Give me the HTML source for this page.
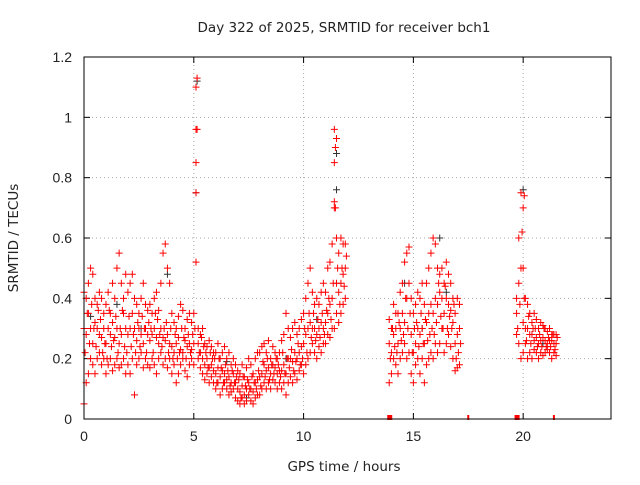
<!DOCTYPE html>
<html><head><meta charset="utf-8"><style>
body{margin:0;background:#fff;}
svg text{font-family:"Liberation Sans",sans-serif;font-size:14px;fill:#222;}
svg text.big{font-family:"DejaVu Sans",sans-serif;font-size:13.5px;}
</style></head><body>
<svg id="chart" width="640" height="480" viewBox="0 0 640 480" xmlns="http://www.w3.org/2000/svg">
<text class="big" x="344" y="32" text-anchor="middle">Day 322 of 2025, SRMTID for receiver bch1</text>
<text class="big" x="344" y="471" text-anchor="middle">GPS time / hours</text>
<text class="big" transform="translate(18,238) rotate(-90)" text-anchor="middle">SRMTID / TECUs</text>
<g id="grid"></g>
<g id="ticks"></g>
<g id="marks"></g>
<rect x="84" y="57" width="527" height="362" fill="none" stroke="#000" stroke-width="1"/>
</svg>
<script>
const xTicks=[0,5,10,15,20];
const yTicks=[0,0.2,0.4,0.6,0.8,1,1.2];
const yTickLabels=["0","0.2","0.4","0.6","0.8","1","1.2"];
const segStarts=[0.0,13.9,19.7];
const segStep=0.1;
const lowA=[.05,.12,.15,.2,.18,.15,.2,.22,.18,.2,.15,.18,.2,.16,.18,.2,.17,.18,.2,.15,.18,.15,.2,.08,.18,.2,.22,.17,.2,.18,.17,.2,.18,.15,.2,.22,.18,.2,.17,.2,.15,.18,.12,.15,.18,.2,.16,.14,.18,.2,.18,.52,.2,.17,.15,.13,.15,.12,.14,.12,.1,.12,.08,.1,.12,.1,.08,.09,.1,.07,.06,.05,.07,.05,.06,.08,.06,.05,.07,.08,.08,.1,.12,.1,.12,.1,.13,.12,.1,.12,.1,.12,.08,.12,.14,.12,.15,.13,.16,.18,.15,.18,.2,.22,.25,.22,.2,.24,.22,.25,.25,.28,.27,.3,.3,.35,.32,.35,.38,.4];
const midA=[.3,.28,.35,.3,.25,.32,.3,.28,.27,.3,.25,.3,.28,.32,.27,.3,.25,.28,.35,.3,.28,.3,.35,.3,.26,.3,.28,.25,.3,.28,.26,.28,.3,.27,.25,.3,.27,.26,.28,.25,.24,.22,.25,.27,.23,.22,.26,.24,.25,.23,.25,.85,.25,.22,.2,.18,.2,.17,.18,.16,.15,.17,.14,.16,.15,.13,.14,.12,.15,.12,.1,.09,.11,.08,.1,.12,.1,.09,.12,.13,.14,.15,.18,.16,.17,.15,.18,.17,.15,.16,.16,.18,.15,.2,.2,.19,.22,.2,.22,.24,.25,.28,.3,.32,.3,.3,.28,.3,.32,.3,.32,.35,.38,.4,.85,.45,.42,.45,.48,.5];
const mid2A=[.22,.35,.25,.38,.3,.24,.36,.33,.22,.25,.2,.36,.24,.26,.34,.22,.3,.36,.24,.22,.34,.24,.28,.22,.32,.24,.34,.3,.22,.32,.3,.22,.35,.33,.28,.24,.3,.32,.22,.3,.2,.28,.2,.22,.3,.27,.2,.28,.22,.28,.3,.96,.22,.27,.24,.22,.17,.22,.2,.2,.12,.2,.17,.12,.18,.16,.11,.16,.12,.14,.13,.07,.14,.11,.13,.1,.14,.12,.1,.16,.11,.19,.14,.2,.13,.18,.15,.2,.18,.14,.22,.15,.2,.17,.23,.16,.19,.25,.18,.2,.3,.22,.35,.27,.35,.26,.33,.27,.35,.28,.36,.4,.33,.45,.7,.5,.38,.5,.44,.54];
const highA=[.42,.4,.45,.5,.48,.4,.38,.42,.4,.35,.38,.42,.35,.45,.4,.5,.55,.45,.4,.48,.42,.45,.48,.4,.38,.35,.4,.45,.38,.36,.38,.35,.4,.42,.36,.45,.55,.58,.5,.45,.35,.32,.3,.34,.38,.36,.3,.33,.35,.32,.35,1.1,.3,.28,.3,.25,.24,.26,.24,.22,.22,.25,.2,.22,.24,.2,.22,.18,.2,.18,.16,.15,.18,.14,.17,.2,.18,.15,.2,.22,.22,.24,.25,.22,.26,.2,.24,.22,.2,.22,.26,.28,.35,.3,.27,.3,.32,.28,.3,.33,.35,.4,.45,.5,.42,.38,.4,.38,.42,.45,.42,.5,.52,.58,.96,.6,.55,.6,.58,.58];
const lowB=[.12,.15,.2,.18,.15,.2,.22,.25,.2,.22,.15,.12,.18,.2,.15,.2,.12,.18,.2,.22,.2,.25,.22,.25,.3,.22,.25,.28,.24,.2,.16,.17,.18];
const midB=[.25,.22,.28,.3,.25,.3,.35,.32,.4,.45,.28,.22,.25,.3,.28,.3,.25,.32,.35,.38,.35,.4,.38,.42,.4,.35,.4,.38,.36,.32,.25,.28,.3];
const mid2B=[.2,.3,.24,.22,.32,.26,.28,.4,.3,.35,.22,.3,.32,.24,.35,.25,.33,.26,.28,.3,.28,.32,.45,.34,.3,.44,.3,.34,.3,.38,.2,.22,.25];
const highB=[.33,.3,.38,.35,.35,.42,.45,.52,.55,.57,.4,.35,.38,.42,.4,.45,.38,.45,.5,.55,.6,.58,.5,.48,.5,.45,.52,.48,.45,.4,.35,.4,.38];
const lowC=[.28,.25,.2,.22,.25,.2,.22,.2,.23,.22,.2,.22,.21,.22,.23,.22,.2,.22,.21];
const midC=[.35,.45,.5,.32,.3,.3,.28,.28,.26,.27,.25,.26,.27,.26,.25,.26,.26,.25,.25];
const mid2C=[.3,.38,.62,.4,.26,.34,.25,.3,.3,.24,.28,.24,.3,.24,.27,.24,.28,.23,.27];
const highC=[.4,.6,.75,.5,.4,.38,.35,.32,.35,.33,.3,.32,.31,.3,.29,.3,.28,.28,.28];
const extraT=[5.1,5.1,5.15,11.4,11.4,11.45,11.5,20.0,20.05];
const extraV=[0.96,0.75,1.13,0.7,0.72,0.9,0.93,0.7,0.74];
const blackT=[0.3,1.5,2.6,3.8,5.15,5.1,6.5,7.4,9.2,10.6,11.5,11.5,14.6,15.4,16.2,16.5,20.0,20.9];
const blackV=[0.34,0.38,0.3,0.48,1.12,0.75,0.19,0.07,0.2,0.33,0.76,0.88,0.45,0.3,0.6,0.42,0.76,0.25];
const gapT=[13.9,19.7];
const gapTickT=[17.5,21.4];

const X=t=>84+t*(527/24);
const Y=v=>419-v*(362/1.2);
const NS="http://www.w3.org/2000/svg";
const grid=document.getElementById('grid'),ticks=document.getElementById('ticks'),marks=document.getElementById('marks');
function mk(tag,attrs,parent){const e=document.createElementNS(NS,tag);for(const k in attrs)e.setAttribute(k,attrs[k]);parent.appendChild(e);return e;}
xTicks.forEach(t=>{
  const x=X(t);
  if(t>0){const g=mk('line',{x1:x,y1:57,x2:x,y2:419,stroke:'#aaa','stroke-dasharray':'1,3'},grid);
  
  }
  mk('line',{x1:x,y1:419,x2:x,y2:413,stroke:'#000'},ticks);
  mk('line',{x1:x,y1:57,x2:x,y2:63,stroke:'#000'},ticks);
  const tx=mk('text',{x:x,y:441,'text-anchor':'middle'},ticks);tx.textContent=t;
  
  
});
yTicks.forEach((v,i)=>{
  const y=Y(v);
  if(v>0&&v<1.2){const g=mk('line',{x1:84,y1:y,x2:611,y2:y,stroke:'#aaa','stroke-dasharray':'1,3'},grid);
  
  }
  mk('line',{x1:84,y1:y,x2:90,y2:y,stroke:'#000'},ticks);
  mk('line',{x1:611,y1:y,x2:605,y2:y,stroke:'#000'},ticks);
  const tx=mk('text',{x:72,y:y+5,'text-anchor':'end'},ticks);tx.textContent=yTickLabels[i];
  
  
});
function plus(t,v,col){
  const x=X(t),y=Y(v);
  const p=mk('path',{d:`M${x-3.5},${y}h7M${x},${y-3.5}v7`,stroke:col,'stroke-width':1,fill:'none'},marks);
  
  
}
blackT.forEach((t,i)=>plus(t,blackV[i],'#333'));
[[lowA,midA,mid2A,highA],[lowB,midB,mid2B,highB],[lowC,midC,mid2C,highC]].forEach((arrs,s)=>{
  arrs.forEach((arr,k)=>arr.forEach((v,i)=>plus(segStarts[s]+i*segStep+(k===2?0.05:0),v,'#f00')));
});
extraT.forEach((t,i)=>plus(t,extraV[i],'#f00'));
gapT.forEach(t=>{const r=mk('rect',{x:X(t)-2,y:415,width:5,height:5,fill:'#f00'},marks);
  
  });
gapTickT.forEach(t=>{const r=mk('rect',{x:X(t)-1,y:415,width:2,height:5,fill:'#f00'},marks);
  
  });
</script>
</body></html>
